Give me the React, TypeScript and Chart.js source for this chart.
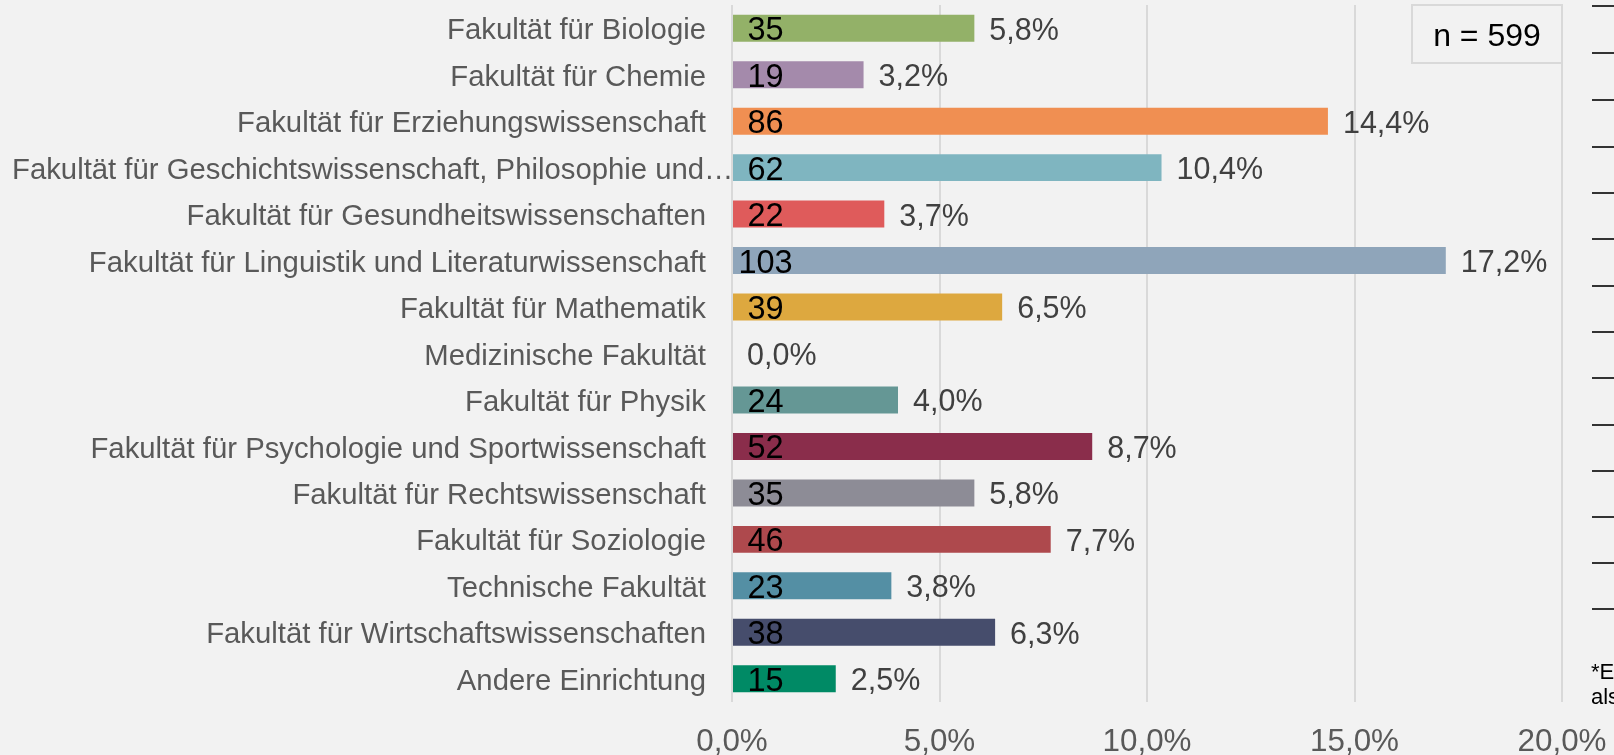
import React, { useEffect, useRef } from 'react';
import { Chart, registerables } from 'chart.js';

Chart.register(...registerables);

const categories = [
  'Fakultät für Biologie',
  'Fakultät für Chemie',
  'Fakultät für Erziehungswissenschaft',
  'Fakultät für Geschichtswissenschaft, Philosophie und…',
  'Fakultät für Gesundheitswissenschaften',
  'Fakultät für Linguistik und Literaturwissenschaft',
  'Fakultät für Mathematik',
  'Medizinische Fakultät',
  'Fakultät für Physik',
  'Fakultät für Psychologie und Sportwissenschaft',
  'Fakultät für Rechtswissenschaft',
  'Fakultät für Soziologie',
  'Technische Fakultät',
  'Fakultät für Wirtschaftswissenschaften',
  'Andere Einrichtung',
];

const counts = [35, 19, 86, 62, 22, 103, 39, 0, 24, 52, 35, 46, 23, 38, 15];

const percents = [5.84, 3.17, 14.36, 10.35, 3.67, 17.2, 6.51, 0, 4.0, 8.68, 5.84, 7.68, 3.84, 6.34, 2.5];

const percentLabels = ['5,8%', '3,2%', '14,4%', '10,4%', '3,7%', '17,2%', '6,5%', '0,0%', '4,0%', '8,7%', '5,8%', '7,7%', '3,8%', '6,3%', '2,5%'];

const barColors = [
  '#93b168', '#a48aab', '#f08f52', '#7fb5c0', '#df5b5b', '#8fa5ba', '#dda83f', '#999999',
  '#659795', '#8a2d4b', '#8d8c96', '#ae494d', '#548fa4', '#464d6c', '#008a65',
];

const xTickLabels = ['0,0%', '5,0%', '10,0%', '15,0%', '20,0%'];
const xMin = 0;
const xMax = 20;
const xStep = 5;

const sampleLabel = 'n = 599';

const FONT = "'Liberation Sans', Arial, sans-serif";
const TEXT_DY = 3;

const labelPlugin = {
  id: 'labelPlugin',
  afterDatasetsDraw(chart: any) {
    const ctx = chart.ctx;
    const meta = chart.getDatasetMeta(0);
    ctx.save();
    meta.data.forEach((bar: any, i: number) => {
      const y = bar.y + TEXT_DY;
      // category label
      ctx.font = `29.3px ${FONT}`;
      ctx.fillStyle = '#595959';
      ctx.textBaseline = 'middle';
      const w = ctx.measureText(categories[i]).width;
      if (706 - w < 12) {
        ctx.textAlign = 'left';
        ctx.fillText(categories[i], 12, y);
      } else {
        ctx.textAlign = 'right';
        ctx.fillText(categories[i], 706, y);
      }
      // count label inside bar
      if (counts[i] > 0) {
        ctx.font = `32.5px ${FONT}`;
        ctx.fillStyle = '#000000';
        ctx.textAlign = 'center';
        ctx.fillText(String(counts[i]), bar.base + 32.5, y);
      }
      // percent label
      ctx.font = `30.5px ${FONT}`;
      ctx.fillStyle = '#404040';
      ctx.textAlign = 'left';
      ctx.fillText(percentLabels[i], bar.x + 15, y);
    });
    ctx.restore();
  },
  afterDraw(chart: any) {
    const ctx = chart.ctx;
    const area = chart.chartArea;
    ctx.save();
    // n box
    const bx = area.right - 150;
    const by = area.top;
    ctx.fillStyle = '#f2f2f2';
    ctx.fillRect(bx, by, 150, 58);
    ctx.strokeStyle = '#d9d9d9';
    ctx.lineWidth = 2;
    ctx.strokeRect(bx, by, 150, 58);
    ctx.font = `32px ${FONT}`;
    ctx.fillStyle = '#000000';
    ctx.textAlign = 'center';
    ctx.textBaseline = 'middle';
    ctx.fillText(sampleLabel, bx + 75, by + 32);
    ctx.restore();
  },
};

export default function App() {
  const canvasRef = useRef<HTMLCanvasElement | null>(null);

  useEffect(() => {
    if (!canvasRef.current) return;
    const chart = new Chart(canvasRef.current, {
      type: 'bar',
      data: {
        labels: categories,
        datasets: [
          {
            data: percents,
            backgroundColor: barColors,
            borderWidth: 0,
            barPercentage: 0.58,
            categoryPercentage: 1,
          },
        ],
      },
      options: {
        indexAxis: 'y',
        responsive: false,
        animation: false,
        devicePixelRatio: 1,
        layout: { padding: { left: 0, right: 52, top: 5, bottom: 0 } },
        plugins: {
          legend: { display: false },
          tooltip: { enabled: false },
          title: { display: false },
        },
        scales: {
          x: {
            type: 'linear',
            min: xMin,
            max: xMax,
            ticks: {
              stepSize: xStep,
              callback: (_v: any, idx: number) => xTickLabels[idx],
              font: { family: FONT, size: 31.4 },
              color: '#595959',
              padding: 22,
              maxRotation: 0,
            },
            grid: { color: '#d9d9d9', lineWidth: 2, drawTicks: false },
            border: { display: false },
            afterFit: (scale: any) => {
              scale.height = 53;
              scale.paddingLeft = 0;
              scale.paddingRight = 0;
            },
          },
          y: {
            type: 'category',
            ticks: { display: false },
            grid: { display: false },
            border: { display: false },
            afterFit: (scale: any) => {
              scale.width = 732;
              scale.paddingTop = 0;
              scale.paddingBottom = 0;
            },
          },
        },
      },
      plugins: [labelPlugin],
    });
    return () => chart.destroy();
  }, []);

  const lineTops = [5, 52, 99, 146, 192, 238, 285, 331, 377, 424, 470, 516, 562, 608];

  return (
    <div style={{ position: 'fixed', left: 0, top: 0, width: 1614, height: 755, background: '#f2f2f2', overflow: 'hidden' }}>
      <canvas ref={canvasRef} width={1614} height={755} style={{ position: 'absolute', left: 0, top: 0, width: 1614, height: 755 }} />
      {lineTops.map((t, i) => (
        <div key={i} style={{ position: 'absolute', left: 1592, top: t, width: 30, height: 2, background: '#333333' }} />
      ))}
      <div style={{ position: 'absolute', left: 1591, top: 659, fontFamily: FONT, fontSize: 22, lineHeight: '25px', color: '#000', whiteSpace: 'nowrap' }}>
        <div>*E</div>
        <div>als</div>
      </div>
    </div>
  );
}
